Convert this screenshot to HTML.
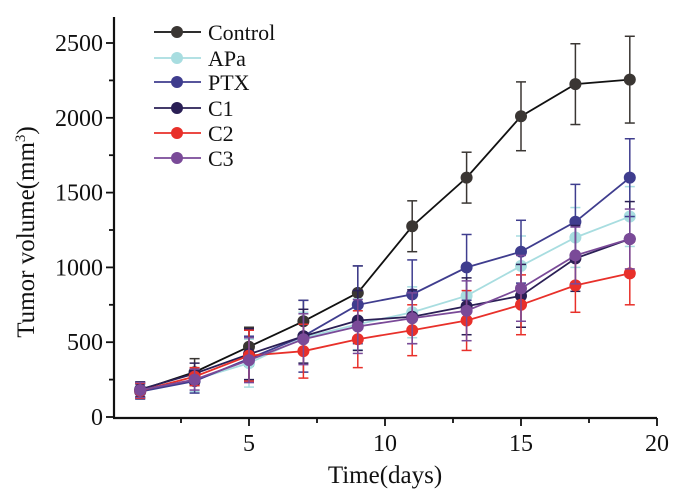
<!DOCTYPE html>
<html><head><meta charset="utf-8"><style>
body{margin:0;background:#fff;}
svg text{font-family:"Liberation Serif",serif;fill:#111;}
</style></head><body>
<svg id="chart" width="700" height="496" viewBox="0 0 700 496">
<g id="axes"></g>
<g id="series"></g>
<g id="legend"></g>
<text x="385" y="483" font-size="25" text-anchor="middle">Time(days)</text>
<text transform="translate(34,232) rotate(-90)" font-size="25" text-anchor="middle">Tumor volume(mm<tspan dy="-9" font-size="15">3</tspan><tspan dy="9">)</tspan></text>
</svg>
<script>
const days=[1,3,5,7,9,11,13,15,17,19];
const seriesNames=["Control","APa","PTX","C1","C2","C3"];
const seriesColors=["#3a3633","#a8dde0","#3f3d8e","#2a1f55","#e8302a","#7a4a98"];
const control=[180,300,470,640,830,1275,1600,2010,2225,2255];
const apa=[170,250,360,530,620,700,810,1010,1200,1340];
const ptx=[170,240,390,540,750,820,1000,1105,1305,1600];
const c1=[185,290,420,540,645,670,740,810,1060,1190];
const c2=[175,270,410,440,520,580,645,750,880,960];
const c3=[180,250,380,520,605,660,710,860,1080,1190];
const controlErr=[50,90,130,140,180,170,170,230,270,290];
const apaErr=[50,80,160,170,170,170,180,200,200,200];
const ptxErr=[50,80,150,240,260,230,220,210,250,260];
const c1Err=[50,70,170,180,200,180,190,210,220,250];
const c2Err=[50,60,170,180,190,170,200,200,180,210];
const c3Err=[50,70,150,170,180,170,200,220,190,200];
const yTicks=[0,500,1000,1500,2000,2500];
const xTicks=[5,10,15,20];
const allVals=[control,apa,ptx,c1,c2,c3];
const allErr=[controlErr,apaErr,ptxErr,c1Err,c2Err,c3Err];
const NS="http://www.w3.org/2000/svg";
const X=d=>113+d*27.2;
const Y=v=>417-v*0.1496;
function mk(tag,attrs,parent){const e=document.createElementNS(NS,tag);for(const k in attrs)e.setAttribute(k,attrs[k]);parent.appendChild(e);return e;}
const axes=document.getElementById('axes');
let e=mk('line',{x1:114,y1:17,x2:114,y2:418,stroke:'#111','stroke-width':2.2},axes);


e=mk('line',{x1:113,y1:418,x2:657,y2:418,stroke:'#111','stroke-width':2.2},axes);


for(let v=0;v<=2500;v+=250){const y=Y(v);const major=v%500===0;mk('line',{x1:major?106:109,y1:y,x2:114,y2:y,stroke:'#111','stroke-width':1.8},axes);}
yTicks.forEach(v=>{const t=mk('text',{x:103,y:Y(v)+8,'font-size':24,'text-anchor':'end'},axes);t.textContent=v;

});
for(let d=2.5;d<=20;d+=2.5){const x=X(d);const major=d%5===0;mk('line',{x1:x,y1:418,x2:x,y2:major?426:423,stroke:'#111','stroke-width':1.8},axes);}
xTicks.forEach(d=>{const t=mk('text',{x:X(d),y:451,'font-size':24,'text-anchor':'middle'},axes);t.textContent=d;

});
const sg=document.getElementById('series');
allVals.forEach((vals,si)=>{
 const col=seriesColors[si];
 const g=mk('g',{},sg);
 
 
 vals.forEach((v,i)=>{const x=X(days[i]),er=allErr[si][i];
  mk('line',{x1:x,y1:Y(v-er),x2:x,y2:Y(v+er),stroke:col,'stroke-width':1.5},g);
  mk('line',{x1:x-5,y1:Y(v-er),x2:x+5,y2:Y(v-er),stroke:col,'stroke-width':1.5},g);
  mk('line',{x1:x-5,y1:Y(v+er),x2:x+5,y2:Y(v+er),stroke:col,'stroke-width':1.5},g);});
 mk('polyline',{points:vals.map((v,i)=>X(days[i])+','+Y(v)).join(' '),fill:'none',stroke:si===0?'#111':col,'stroke-width':1.8},g);
 vals.forEach((v,i)=>{const c=mk('circle',{cx:X(days[i]),cy:Y(v),r:6,fill:col},g);
  
  });
});
const lg=document.getElementById('legend');
const rowY=[32,58,82,108,133,158];
seriesNames.forEach((n,i)=>{const col=seriesColors[i];
 const g=mk('g',{},lg);
 
 
 mk('line',{x1:154,y1:rowY[i],x2:201,y2:rowY[i],stroke:i===0?'#111':col,'stroke-width':1.8},g);
 mk('circle',{cx:177,cy:rowY[i],r:6,fill:col},g);
 const t=mk('text',{x:208,y:rowY[i]+8,'font-size':22},g);t.textContent=n;});
</script>
</body></html>
